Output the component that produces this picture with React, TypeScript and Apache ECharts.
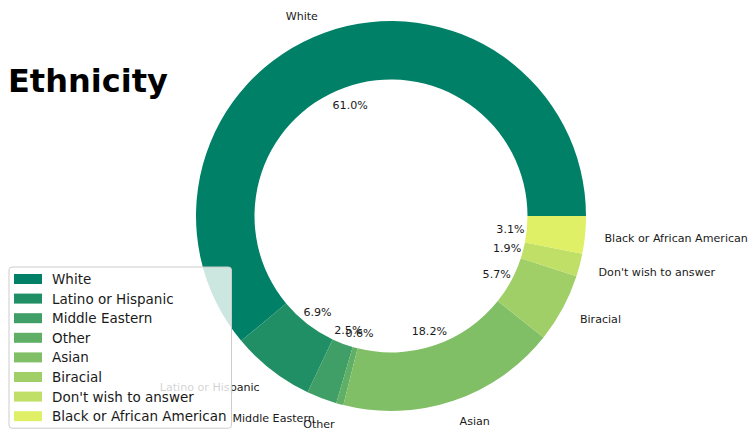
import React, { useEffect, useRef } from "react";
import * as echarts from "echarts";

const categories = [
  "White",
  "Latino or Hispanic",
  "Middle Eastern",
  "Other",
  "Asian",
  "Biracial",
  "Don't wish to answer",
  "Black or African American",
];
const values = [61.0, 6.9, 2.5, 0.6, 18.2, 5.7, 1.9, 3.1];
const colors = [
  "#008066",
  "#208F66",
  "#409F66",
  "#60AF66",
  "#80BF66",
  "#9FCF66",
  "#BFDF66",
  "#DFEF66",
];
const titleText = "Ethnicity";

const FONT = "DejaVu Sans";

export default function App() {
  const ref = useRef<HTMLDivElement>(null);
  useEffect(() => {
    document.body.style.margin = "0";
    if (!ref.current) return;
    const chart = echarts.init(ref.current, null, { renderer: "svg" });
    const R = 195;
    const cx = 391;
    const cy = 216;
    const total = values.reduce((a, b) => a + b, 0);
    let cum = 0;
    const mainData = categories.map((name, i) => {
      const mid = (cum + values[i] / 2) / total;
      cum += values[i];
      const ang = mid * Math.PI * 2;
      const right = Math.cos(ang) >= 0;
      return {
        name,
        value: values[i],
        itemStyle: { color: colors[i] },
        label: { align: right ? "left" : "right" },
      };
    });
    const pctData = categories.map((name, i) => ({
      name,
      value: values[i],
      itemStyle: { color: "rgba(0,0,0,0)" },
    }));
    chart.setOption({
      animation: false,
      title: {
        text: titleText,
        left: 8,
        top: 65,
        padding: 0,
        textStyle: {
          fontFamily: FONT,
          fontSize: 32,
          fontWeight: "bold",
          color: "#000",
        },
      },
      legend: {
        orient: "vertical",
        left: 9,
        top: 267,
        data: categories,
        icon: "rect",
        itemWidth: 28,
        itemHeight: 10,
        itemGap: 5.6,
        padding: [5, 5, 5, 5],
        backgroundColor: "rgba(255,255,255,0.8)",
        borderColor: "#cccccc",
        borderWidth: 1,
        borderRadius: 3,
        selectedMode: false,
        textStyle: {
          fontFamily: FONT,
          fontSize: 13.5,
          lineHeight: 14,
          padding: [0, 0, 0, 5],
          color: "#1a1a1a",
        },
      },
      series: [
        {
          type: "pie",
          center: [cx, cy],
          radius: [R * 0.7, R],
          startAngle: 0,
          clockwise: false,
          avoidLabelOverlap: false,
          labelLayout: { hideOverlap: false },
          minShowLabelAngle: 0,
          silent: true,
          emphasis: { disabled: true },
          label: {
            show: true,
            position: "outside",
            distanceToLabelLine: 0,
            offset: [0, 2],
            fontFamily: FONT,
            fontSize: 11.1,
            color: "#1a1a1a",
            formatter: "{b}",
          },
          labelLine: { show: false, length: R * 0.1, length2: 0 },
          data: mainData,
        },
        {
          type: "pie",
          center: [cx, cy],
          radius: [0, R * 1.2],
          startAngle: 0,
          clockwise: false,
          avoidLabelOverlap: false,
          labelLayout: { hideOverlap: false },
          minShowLabelAngle: 0,
          silent: true,
          emphasis: { disabled: true },
          label: {
            show: true,
            position: "inside",
            offset: [0, 2],
            fontFamily: FONT,
            fontSize: 11.1,
            color: "#1a1a1a",
            formatter: (p: any) => Number(p.value).toFixed(1) + "%",
          },
          labelLine: { show: false },
          data: pctData,
        },
      ],
    });
    return () => chart.dispose();
  }, []);
  return <div ref={ref} style={{ width: 750, height: 434 }} />;
}
